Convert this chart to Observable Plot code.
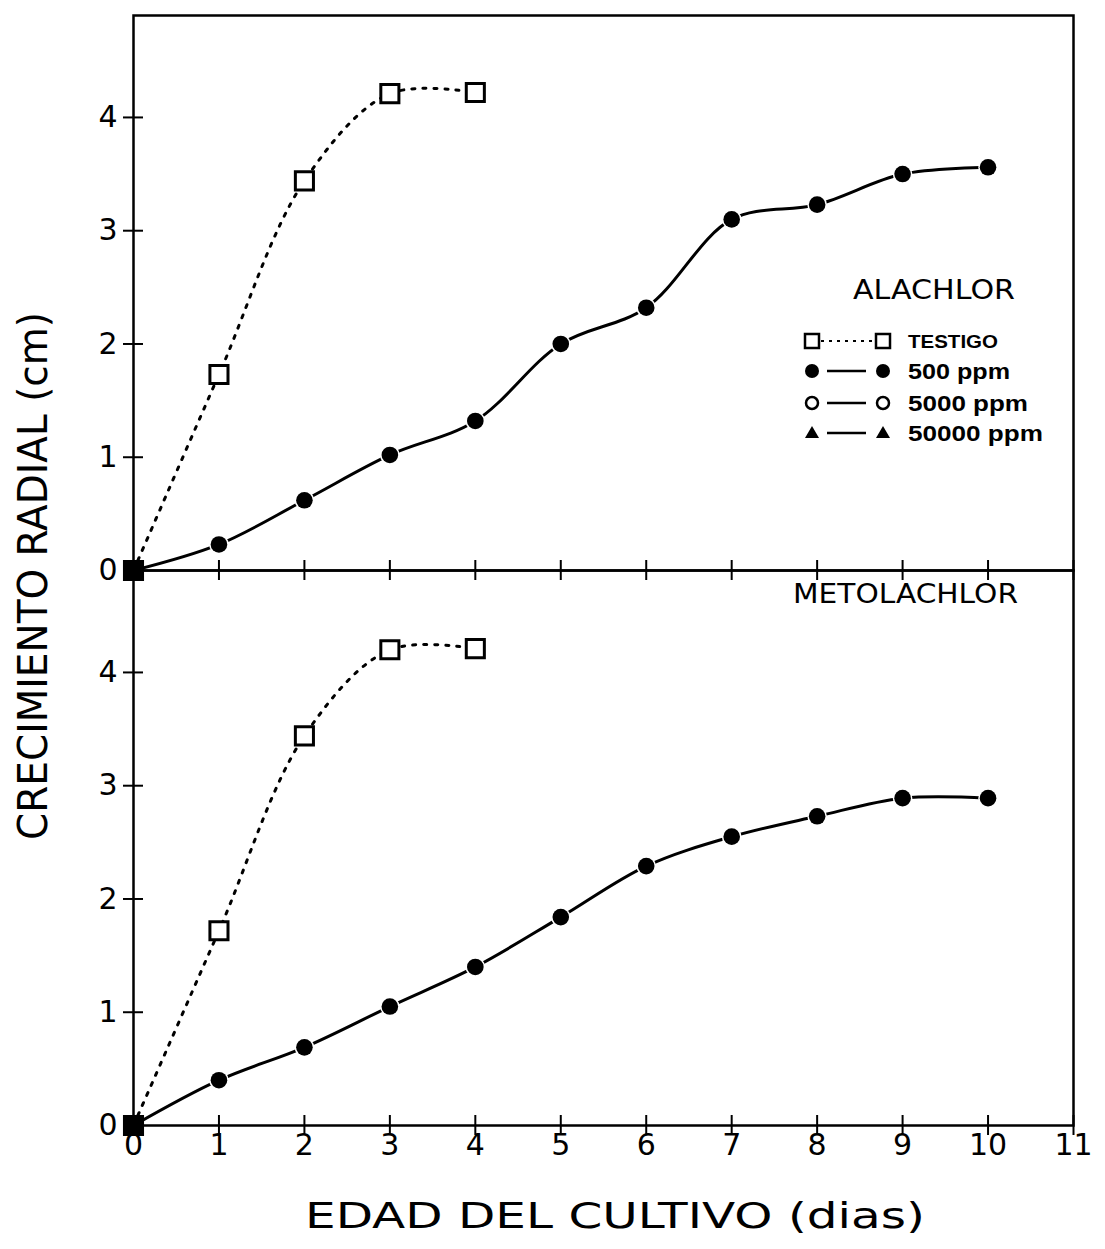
<!DOCTYPE html>
<html><head><meta charset="utf-8">
<script src="https://cdn.jsdelivr.net/npm/d3@7"></script>
<script src="https://cdn.jsdelivr.net/npm/@observablehq/plot@0.6"></script>
<style>
body{margin:0;background:#fff;}
#wrap{position:relative;width:1105px;height:1249px;overflow:hidden;}
#overlay{position:absolute;left:0;top:0;pointer-events:none;}
</style></head><body><div id="wrap"></div>
<script>
const panels = ["ALACHLOR", "METOLACHLOR"];
const days = [0, 1, 2, 3, 4, 5, 6, 7, 8, 9, 10];
const xTicks = [0, 1, 2, 3, 4, 5, 6, 7, 8, 9, 10, 11];
const yTicks = [0, 1, 2, 3, 4];
const alachlorTestigo = [0, 1.73, 3.44, 4.21, 4.22];
const alachlor500 = [0, 0.23, 0.62, 1.02, 1.32, 2.00, 2.32, 3.10, 3.23, 3.50, 3.56];
const alachlor5000 = [0];
const alachlor50000 = [0];
const metolachlorTestigo = [0, 1.72, 3.44, 4.20, 4.21];
const metolachlor500 = [0, 0.40, 0.69, 1.05, 1.40, 1.84, 2.29, 2.55, 2.73, 2.89, 2.89];
const metolachlor5000 = [0];
const metolachlor50000 = [0];

const rows = (panel, series, vals) => vals.map((v, i) => ({panel, series, day: days[i], value: v}));
const testigo = [...rows("ALACHLOR", "TESTIGO", alachlorTestigo), ...rows("METOLACHLOR", "TESTIGO", metolachlorTestigo)];
const ppm500 = [...rows("ALACHLOR", "500 ppm", alachlor500), ...rows("METOLACHLOR", "500 ppm", metolachlor500)];
const ppm5000 = [...rows("ALACHLOR", "5000 ppm", alachlor5000), ...rows("METOLACHLOR", "5000 ppm", metolachlor5000)];
const ppm50000 = [...rows("ALACHLOR", "50000 ppm", alachlor50000), ...rows("METOLACHLOR", "50000 ppm", metolachlor50000)];

const fmt = d => String(d);
const chart = Plot.plot({
  width: 1105, height: 1249,
  marginTop: 15, marginBottom: 124, marginLeft: 133, marginRight: 32,
  style: {fontFamily: "'DejaVu Sans', sans-serif", fontSize: "30px", color: "#000", background: "#fff"},
  x: {domain: [0, 11]},
  y: {domain: [0, 4.9]},
  fy: {domain: panels, padding: 0, axis: null},
  marks: [
    Plot.frame({strokeWidth: 2.5}),
    Plot.axisY(yTicks, {tickSize: 20, dx: 10, text: null, strokeWidth: 2, label: null}),
    Plot.axisY(yTicks, {tickSize: 0, tickPadding: 16, label: null, tickFormat: fmt, fontSize: 30}),
    Plot.axisX(xTicks, {tickSize: 20, dy: -10, text: null, strokeWidth: 2, label: null, facetAnchor: null}),
    Plot.axisX(xTicks, {tickSize: 0, tickPadding: 8, label: null, tickFormat: fmt, fontSize: 30}),
    Plot.line(testigo, {x: "day", y: "value", fy: "panel", z: "panel", curve: "catmull-rom", stroke: "black", strokeWidth: 3, strokeDasharray: "3,8", strokeLinecap: "round"}),
    Plot.line(ppm500, {x: "day", y: "value", fy: "panel", z: "panel", curve: "catmull-rom", stroke: "black", strokeWidth: 3}),
    Plot.dot(ppm50000, {x: "day", y: "value", fy: "panel", symbol: "triangle", r: 6, fill: "black"}),
    Plot.dot(ppm5000, {x: "day", y: "value", fy: "panel", symbol: "circle", r: 7, fill: "white", stroke: "black", strokeWidth: 2}),
    Plot.dot(ppm500, {x: "day", y: "value", fy: "panel", symbol: "circle", r: 8.3, fill: "black", stroke: "white", strokeWidth: 3, paintOrder: "stroke"}),
    Plot.dot(testigo, {x: "day", y: "value", fy: "panel", symbol: "square", r: 10.2, fill: d => d.day === 0 ? "black" : "white", stroke: "black", strokeWidth: 3})
  ]
});

const wrap = document.getElementById("wrap");
wrap.appendChild(chart);

const NS = "http://www.w3.org/2000/svg";
const ov = document.createElementNS(NS, "svg");
ov.setAttribute("id", "overlay");
ov.setAttribute("width", 1105);
ov.setAttribute("height", 1249);
ov.style.fontFamily = "'DejaVu Sans', sans-serif";
wrap.appendChild(ov);
function txt(s, x, y, size, opts = {}) {
  const t = document.createElementNS(NS, "text");
  t.textContent = s;
  t.setAttribute("x", x); t.setAttribute("y", y);
  t.setAttribute("font-size", size);
  t.setAttribute("fill", "black");
  if (opts.anchor) t.setAttribute("text-anchor", opts.anchor);
  if (opts.len) { t.setAttribute("textLength", opts.len); t.setAttribute("lengthAdjust", opts.adjust || "spacingAndGlyphs"); }
  if (opts.rotate) t.setAttribute("transform", `rotate(${opts.rotate},${x},${y})`);
  if (opts.weight) t.setAttribute("font-weight", opts.weight);
  if (opts.family) t.setAttribute("font-family", opts.family);
  t.setAttribute("xml:space", "preserve");
  ov.appendChild(t);
  return t;
}
function el(name, attrs) {
  const e = document.createElementNS(NS, name);
  for (const k in attrs) e.setAttribute(k, attrs[k]);
  ov.appendChild(e);
  return e;
}
txt("ALACHLOR", 853, 299, 26, {len: 162});
txt("METOLACHLOR", 793, 603, 26, {len: 225});
txt("EDAD DEL CULTIVO  (dias)", 305, 1228, 36, {len: 620});
txt("CRECIMIENTO RADIAL  (cm)", 47, 840, 41, {rotate: -90, len: 528});

// legend
const rowsY = [341, 371, 403, 433];
const labels = ["TESTIGO", "500 ppm", "5000 ppm", "50000 ppm"];
const lens = [90, 102, 120, 135];
rowsY.forEach((y, i) => {
  if (i === 0) {
    el("line", {x1: 821, x2: 874, y1: y, y2: y, stroke: "black", "stroke-width": 2, "stroke-dasharray": "3,5"});
    [812, 883].forEach(cx => el("rect", {x: cx - 7, y: y - 7, width: 14, height: 14, fill: "white", stroke: "black", "stroke-width": 2.5}));
  } else {
    el("line", {x1: 827, x2: 866, y1: y, y2: y, stroke: "black", "stroke-width": 2.5});
    [812, 883].forEach(cx => {
      if (i === 1) el("circle", {cx, cy: y, r: 7, fill: "black"});
      if (i === 2) el("circle", {cx, cy: y, r: 6, fill: "white", stroke: "black", "stroke-width": 2.5});
      if (i === 3) el("path", {d: `M${cx},${y - 7}L${cx + 7},${y + 5}L${cx - 7},${y + 5}Z`, fill: "black"});
    });
  }
  txt(labels[i], 908, y + (i === 0 ? 7 : 8), i === 0 ? 19 : 22, {len: lens[i], weight: i === 0 ? "bold" : "600", family: "'Liberation Sans', Arial, sans-serif"});
});
</script></body></html>
